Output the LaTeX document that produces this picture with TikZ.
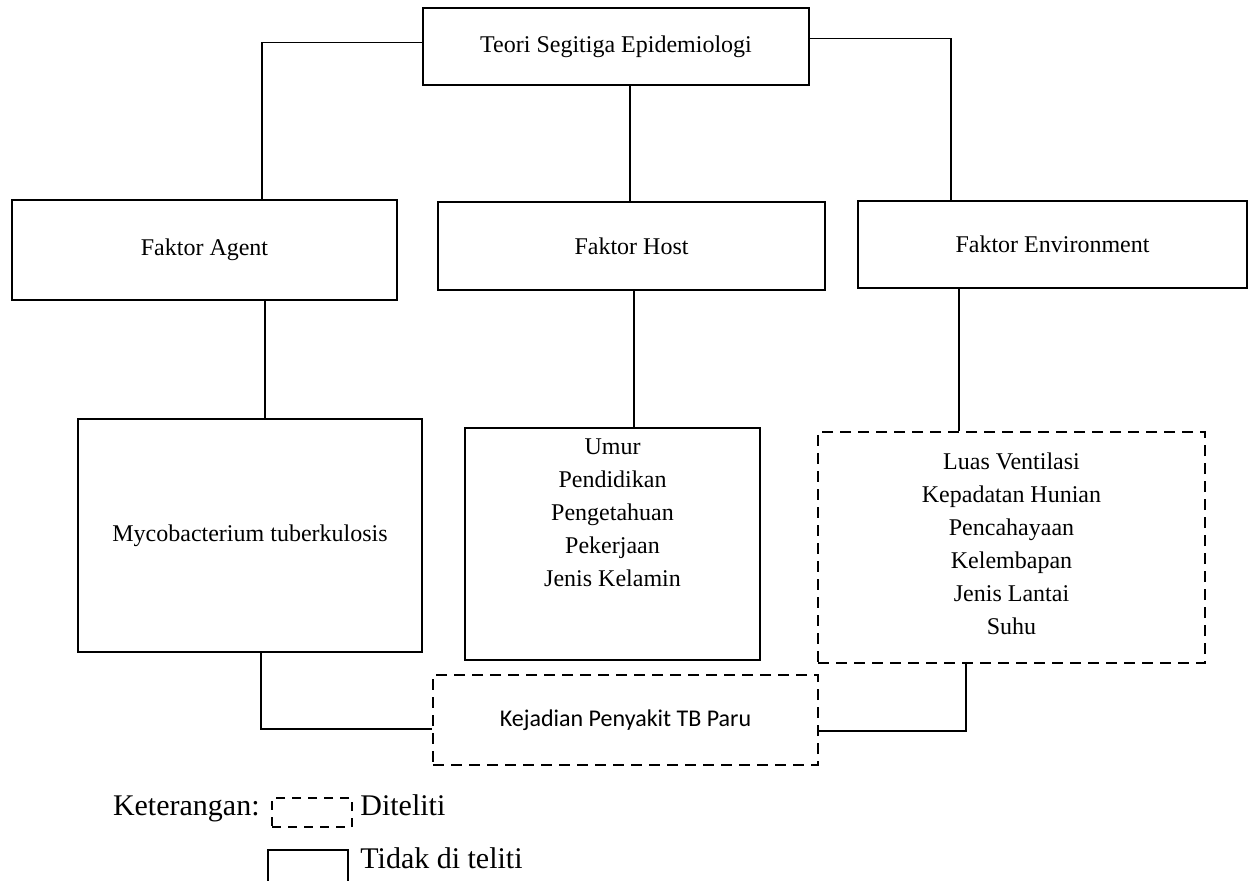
\documentclass[tikz,border=0pt]{standalone}
\usepackage{fontspec}
\setmainfont{Liberation Serif}
\newfontfamily\carlito{Carlito}

\begin{document}
\begin{tikzpicture}[x=0.5pt, y=-0.5pt,
  solidbox/.style={draw, line width=1.3pt, inner sep=0pt, align=center, font=\fontsize{12}{16.5}\selectfont},
  dashbox/.style={draw, line width=1.3pt, dash pattern=on 5.5pt off 3.5pt, inner sep=0pt, align=center},
  listtext/.style={align=center, inner sep=0pt, font=\fontsize{12}{16.5}\selectfont},
  legtext/.style={inner sep=0pt, font=\fontsize{15}{18}\selectfont},
  link/.style={line width=0.6pt}]
\clip (0,0) rectangle (1251,881); % page
% boxes
\node[solidbox, minimum width=193pt, minimum height=38.5pt] (teori) at (616,46.5) {Teori Segitiga Epidemiologi};
\node[solidbox, minimum width=192.5pt, minimum height=50pt] (agent) at (204.5,250) {Faktor Agent};
\node[solidbox, minimum width=193.5pt, minimum height=44pt] (host) at (631.5,246) {Faktor Host};
\node[solidbox, minimum width=194.5pt, minimum height=43.5pt] (env) at (1052.5,244.5) {Faktor Environment};
\node[solidbox, minimum width=172pt, minimum height=116.5pt] (myco) at (250,535.5) {Mycobacterium tuberkulosis};
\node[solidbox, minimum width=147.5pt, minimum height=116pt] (hostvar) at (612.5,544) {};
\node[listtext] (hostlist) at (612.5,513) {Umur\\Pendidikan\\Pengetahuan\\Pekerjaan\\Jenis Kelamin};
\node[dashbox, minimum width=193.5pt, minimum height=115.5pt] (envvar) at (1011.5,547.5) {};
\node[listtext] (envlist) at (1011.5,544) {Luas Ventilasi\\Kepadatan Hunian\\Pencahayaan\\Kelembapan\\Jenis Lantai\\Suhu};
\node[dashbox, minimum width=192.5pt, minimum height=45pt, font=\carlito\fontsize{12}{14}\selectfont] (tb) at (625.5,720) {Kejadian Penyakit TB Paru};
% connectors
\draw[link] ([yshift=2pt]teori.west) -| (agent.north -| 262,0);
\draw[link] ([yshift=4pt]teori.east) -| (env.north -| 951,0);
\draw[link] (teori.south -| 630,0) -- (host.north -| 630,0);
\draw[link] (agent.south -| 265,0) -- (myco.north -| 265,0);
\draw[link] (host.south -| 634,0) -- (hostvar.north -| 634,0);
\draw[link] (env.south -| 959,0) -- (envvar.north -| 959,0);
\draw[link] (myco.south -| 261,0) |- (tb.west |- 0,729);
\draw[link] (envvar.south -| 966,0) |- (tb.east |- 0,731);
% legend
\node[legtext, anchor=base east] (ket) at (260,815) {Keterangan:};
\node[draw, line width=1pt, dash pattern=on 4.5pt off 3.5pt, minimum width=40pt, minimum height=14.5pt, inner sep=0pt] (legdash) at (312,812.5) {};
\node[legtext, anchor=base west] (diteliti) at (360,815) {Diteliti};
\node[draw, line width=1.3pt, minimum width=40pt, minimum height=20pt, inner sep=0pt] (legsolid) at (308,870) {};
\node[legtext, anchor=base west] (tidak) at (360,868) {Tidak di teliti};
\end{tikzpicture}
\end{document}
